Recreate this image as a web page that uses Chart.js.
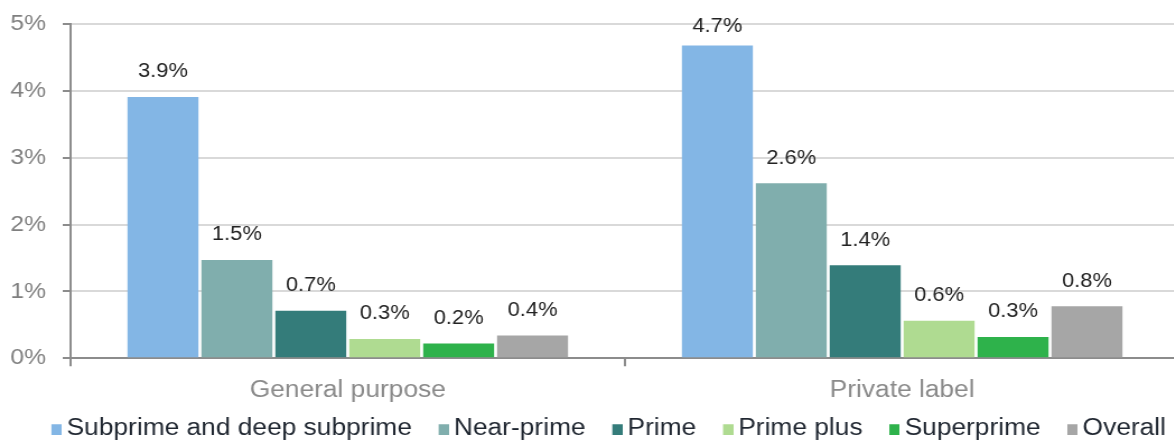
<!DOCTYPE html>
<html>
<head>
<meta charset="utf-8">
<script src="https://cdn.jsdelivr.net/npm/chart.js@4.4.1/dist/chart.umd.min.js"></script>
<style>
    html, body { margin: 0; padding: 0; background: #fff; width: 1174px; height: 442px; overflow: hidden; }
    /* the reference is drawn a bit wide, so the chart is stretched sideways */
    #wrap { width: 1053px; height: 442px; transform: scaleX(1.12); transform-origin: 0 0; }
</style>
</head>
<body>
<div id="wrap"><canvas id="chart"></canvas></div>
<script>
// Categories and series
const categories = ['General purpose', 'Private label'];
const seriesNames = ['Subprime and deep subprime', 'Near-prime', 'Prime', 'Prime plus', 'Superprime', 'Overall'];

// Bar heights (percent)
const subprime = [3.91, 4.68];
const nearPrime = [1.47, 2.62];
const prime = [0.71, 1.39];
const primePlus = [0.29, 0.56];
const superprime = [0.22, 0.32];
const overall = [0.34, 0.78];

// Printed value labels
const subprimeLabels = ['3.9%', '4.7%'];
const nearPrimeLabels = ['1.5%', '2.6%'];
const primeLabels = ['0.7%', '1.4%'];
const primePlusLabels = ['0.3%', '0.6%'];
const superprimeLabels = ['0.2%', '0.3%'];
const overallLabels = ['0.4%', '0.8%'];

// Y axis ticks
const yTicks = [0, 1, 2, 3, 4, 5];

const colors = ['#83b6e5', '#80aead', '#347c7a', '#afdb91', '#2eb24b', '#a6a6a6'];
const allValues = [subprime, nearPrime, prime, primePlus, superprime, overall];
const allLabels = [subprimeLabels, nearPrimeLabels, primeLabels, primePlusLabels, superprimeLabels, overallLabels];

const FONT = "'Liberation Sans', Arial, sans-serif";

// Small square legend markers, drawn to the right of a wider transparent box
function makeMarker(color) {
    const c = document.createElement('canvas');
    c.width = 28;
    c.height = 14;
    const g = c.getContext('2d');
    g.fillStyle = color;
    g.fillRect(c.width - 9, 3, 9, 11);
    return c;
}
const markers = colors.map(makeMarker);

// Value labels above each bar
const valueLabels = {
    id: 'valueLabels',
    afterDatasetsDraw(chart) {
        const ctx = chart.ctx;
        ctx.save();
        ctx.font = '19.5px ' + FONT;
        ctx.fillStyle = '#222222';
        ctx.textAlign = 'center';
        ctx.textBaseline = 'middle';
        chart.data.datasets.forEach((ds, di) => {
            chart.getDatasetMeta(di).data.forEach((bar, i) => {
                const y = Math.max(bar.y - 25, chart.chartArea.top + 3);
                ctx.fillText(ds.valueLabels[i], bar.x, y);
            });
        });
        ctx.restore();
    }
};

// Nudge the legend row to where it sits in the reference
const legendShift = {
    id: 'legendShift',
    afterLayout(chart) {
        chart.legend.left = -25;
        chart.legend.right = 1100;
    }
};

new Chart(document.getElementById('chart'), {
    type: 'bar',
    data: {
        labels: categories,
        datasets: seriesNames.map((name, i) => ({
            label: name,
            data: allValues[i],
            valueLabels: allLabels[i],
            backgroundColor: colors[i],
            borderWidth: 0,
            categoryPercentage: 0.8,
            barPercentage: 0.96
        }))
    },
    options: {
        responsive: true,
        maintainAspectRatio: false,
        animation: false,
        layout: { padding: { top: 24, left: 9, right: 0, bottom: 0 } },
        plugins: {
            tooltip: { enabled: false },
            legend: {
                position: 'bottom',
                maxHeight: 37.5,
                labels: {
                    usePointStyle: true,
                    pointStyleWidth: 13.75,
                    padding: 12,
                    color: '#1f2630',
                    font: { family: FONT, size: 23.5 },
                    generateLabels(chart) {
                        const items = Chart.defaults.plugins.legend.labels.generateLabels(chart);
                        items.forEach((it, i) => { it.pointStyle = markers[i]; });
                        return items;
                    }
                }
            }
        },
        scales: {
            x: {
                afterFit(axis) {
                    axis.height = 46.2;
                },
                grid: {
                    drawOnChartArea: false,
                    drawTicks: true,
                    tickLength: 8,
                    tickColor: '#8c8c8c',
                    lineWidth: 2
                },
                border: { color: '#8c8c8c', width: 2 },
                ticks: {
                    color: '#8a8a8a',
                    padding: 10,
                    font: { family: FONT, size: 23.5 }
                }
            },
            y: {
                min: 0,
                max: 5,
                afterBuildTicks(axis) {
                    axis.ticks = yTicks.map(v => ({ value: v }));
                },
                afterFit(axis) {
                    axis.width = 54;
                    axis.paddingTop = 0;
                    axis.paddingBottom = 0;
                },
                grid: {
                    color: '#d9d9d9',
                    lineWidth: 2,
                    tickLength: 7,
                    tickColor: '#8c8c8c'
                },
                border: { color: '#8c8c8c', width: 2 },
                ticks: {
                    color: '#7f7f7f',
                    padding: 15,
                    font: { family: FONT, size: 22 },
                    callback: v => v + '%'
                }
            }
        }
    },
    plugins: [valueLabels, legendShift]
});
</script>
</body>
</html>
